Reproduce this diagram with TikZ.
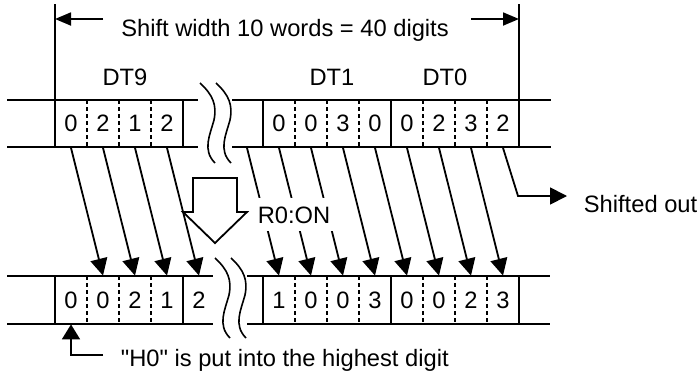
\documentclass[tikz,border=0pt]{standalone}
\usepackage{fontspec}
\setmainfont{Liberation Sans}[Ligatures=TeXOff]
\usetikzlibrary{arrows.meta}
\begin{document}
\begin{tikzpicture}[x=1pt,y=-1pt,line width=1.8pt,
  txt/.style={font=\fontsize{23.7}{28}\selectfont, inner sep=0pt},
  cell/.style={txt, minimum width=32pt, minimum height=47pt},
  dsh/.style={dash pattern=on 4pt off 3pt},
  shiftarrow/.style={-{Triangle[length=17pt,width=17pt]}},
  dimarrow/.style={-{Triangle[length=16pt,width=13pt]}},
  wave/.pic={\draw[line width=1.6pt] (0,0) .. controls (13,12) and (17,22) .. (14,37)
      .. controls (10,52) and (2,67) .. (15,80);}
]
\useasboundingbox (0,0) rectangle (700,380);

% ---------- top row ----------
\draw (7,100) -- (198,100) (7,147) -- (198,147);
\draw (232,100) -- (551,100) (232,147) -- (551,147);
\draw (55,4) -- (55,147) (519,4) -- (519,147);
\foreach \x in {183,263,391} \draw (\x,100) -- (\x,147);
\foreach \x in {87,119,151,295,327,359,423,455,487} \draw[dsh] (\x,100) -- (\x,147);
\pic at (200,83) {wave};
\pic at (216,83) {wave};

\foreach \n/\x/\d in {1/71/0,2/103/2,3/135/1,4/167/2}
  \node[cell] (ta\n) at (\x,123.5) {\d};
\foreach \n/\x/\d in {0/247/,1/279/0,2/311/0,3/343/3,4/375/0,5/407/0,6/439/2,7/471/3,8/503/2}
  \node[cell] (tb\n) at (\x,123.5) {\d};

\node[txt, anchor=base] (dt9) at (125,85) {DT9};
\node[txt, anchor=base] (dt1) at (332,85) {DT1};
\node[txt, anchor=base] (dt0) at (445,85) {DT0};

% dimension
\node[txt, anchor=base] (dim) at (285,36) {Shift width 10 words = 40 digits};
\coordinate (dl0) at (103,19); \coordinate (dl1) at (55,19);
\coordinate (dr0) at (471,19); \coordinate (dr1) at (519,19);
\draw[dimarrow] (dl0) -- (dl1);
\draw[dimarrow] (dr0) -- (dr1);

% ---------- bottom row ----------
\draw (7,276) -- (213,276) (7,324) -- (213,324);
\draw (247,276) -- (550,276) (247,324) -- (550,324);
\foreach \x in {55,183,263,391,519} \draw (\x,276) -- (\x,324);
\foreach \x in {87,119,151,295,327,359,423,455,487} \draw[dsh] (\x,276) -- (\x,324);
\pic at (215,258) {wave};
\pic at (231,258) {wave};

\foreach \n/\x/\d in {1/71/0,2/103/0,3/135/2,4/167/1,5/199/2}
  \node[cell] (ba\n) at (\x,300) {\d};
\foreach \n/\x/\d in {1/279/1,2/311/0,3/343/0,4/375/3,5/407/0,6/439/0,7/471/2,8/503/3}
  \node[cell] (bb\n) at (\x,300) {\d};

% ---------- shift arrows ----------
\foreach \i [evaluate=\i as \j using int(\i+1)] in {1,...,4}
  \draw[shiftarrow] (ta\i.south) -- (ba\j.north);
\foreach \i [evaluate=\i as \j using int(\i+1)] in {0,...,7}
  \draw[shiftarrow] (tb\i.south) -- (bb\j.north);

% shifted out
\coordinate (so1) at (518,196);
\coordinate (so2) at (567,196);
\draw[shiftarrow] (tb8.south) -- (so1) -- (so2);
\node[txt, anchor=base west] (sotext) at (583,212) {Shifted out};

% block arrow
\draw[fill=white] (193,178) -- (237,178) -- (237,212) -- (247,212)
  -- (215,243) -- (183,212) -- (193,212) -- cycle;
\node[txt, anchor=base, fill=white, inner xsep=3pt, inner ysep=8pt] (r0) at (294,223) {R0:ON};

% H0
\coordinate (h1) at (103,355);
\draw[-{Triangle[length=15pt,width=18pt]}] (h1) -| (ba1.south);
\node[txt, anchor=base west] (h0text) at (120,366) {"H0" is put into the highest digit};
\end{tikzpicture}
\end{document}
